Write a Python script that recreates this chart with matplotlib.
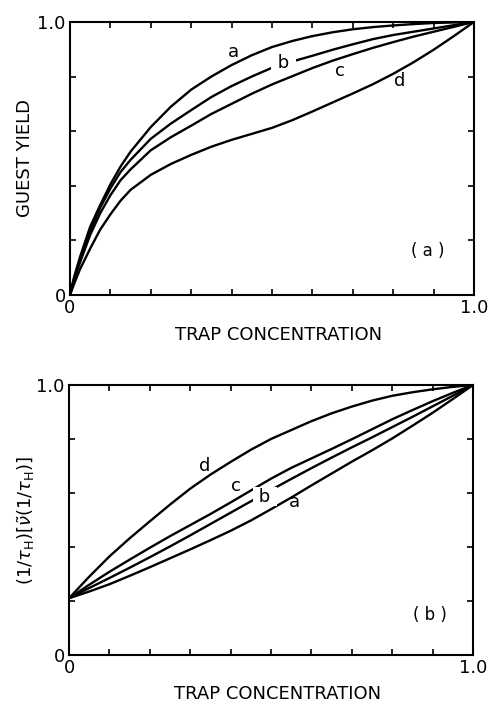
import numpy as np
import matplotlib
matplotlib.use('Agg')
import matplotlib.pyplot as plt

# panel (a): guest yield vs trap concentration
xa = [0, 0.01, 0.025, 0.05, 0.075, 0.1, 0.125, 0.15, 0.2, 0.25, 0.3, 0.35, 0.4,
      0.45, 0.5, 0.55, 0.6, 0.65, 0.7, 0.75, 0.8, 0.85, 0.9, 0.95, 1.0]
ya_a = [0, 0.065, 0.14, 0.25, 0.33, 0.405, 0.47, 0.525, 0.615, 0.69, 0.752, 0.80, 0.842,
        0.878, 0.908, 0.93, 0.948, 0.962, 0.973, 0.981, 0.987, 0.992, 0.996, 0.998, 1.0]
ya_b = [0, 0.06, 0.13, 0.235, 0.32, 0.39, 0.45, 0.495, 0.572, 0.628, 0.677, 0.725, 0.765,
        0.80, 0.832, 0.855, 0.876, 0.898, 0.918, 0.937, 0.952, 0.964, 0.976, 0.988, 1.0]
ya_c = [0, 0.055, 0.12, 0.22, 0.30, 0.365, 0.42, 0.46, 0.53, 0.578, 0.62, 0.663, 0.70,
        0.737, 0.771, 0.801, 0.831, 0.858, 0.882, 0.905, 0.926, 0.946, 0.964, 0.982, 1.0]
ya_d = [0, 0.04, 0.095, 0.17, 0.24, 0.295, 0.345, 0.385, 0.44, 0.48, 0.513, 0.543, 0.568,
        0.59, 0.612, 0.64, 0.672, 0.705, 0.738, 0.772, 0.81, 0.852, 0.898, 0.948, 1.0]

# panel (b): normalized decay rate vs trap concentration
xb = [0, 0.05, 0.1, 0.15, 0.2, 0.25, 0.3, 0.35, 0.4, 0.45, 0.5,
      0.55, 0.6, 0.65, 0.7, 0.75, 0.8, 0.85, 0.9, 0.95, 1.0]
yb_d = [0.21, 0.29, 0.365, 0.432, 0.495, 0.557, 0.616, 0.668, 0.715, 0.76, 0.80,
        0.833, 0.866, 0.895, 0.92, 0.942, 0.96, 0.973, 0.984, 0.993, 1.0]
yb_c = [0.21, 0.26, 0.308, 0.353, 0.397, 0.44, 0.481, 0.522, 0.565, 0.609, 0.653,
        0.693, 0.728, 0.763, 0.799, 0.836, 0.873, 0.907, 0.94, 0.971, 1.0]
yb_b = [0.21, 0.248, 0.285, 0.323, 0.362, 0.402, 0.443, 0.485, 0.527, 0.569, 0.611,
        0.652, 0.692, 0.731, 0.769, 0.806, 0.844, 0.882, 0.921, 0.96, 1.0]
yb_a = [0.21, 0.235, 0.262, 0.293, 0.325, 0.358, 0.391, 0.425, 0.46, 0.498, 0.54,
        0.583, 0.628, 0.672, 0.716, 0.758, 0.802, 0.849, 0.897, 0.948, 1.0]

xticks = np.linspace(0, 1, 11)
xticklabels = ['0', '', '', '', '', '', '', '', '', '', '1.0']
yticks = np.linspace(0, 1, 6)
yticklabels = ['0', '', '', '', '', '1.0']

fig = plt.figure(figsize=(4.88, 7.02), dpi=100)
ax1 = fig.add_axes([0.1434, 0.5798, 0.828, 0.389])
ax2 = fig.add_axes([0.1414, 0.0670, 0.828, 0.3846])

fs = 13
lw = 1.7

def style(ax):
    ax.set_xlim(0, 1)
    ax.set_ylim(0, 1)
    ax.set_xticks(xticks)
    ax.set_xticklabels(xticklabels)
    ax.set_yticks(yticks)
    ax.set_yticklabels(yticklabels)
    ax.tick_params(direction='in', top=True, right=True, length=4, width=1.2,
                   labelsize=fs, pad=3)
    for s in ax.spines.values():
        s.set_linewidth(1.5)

for y in [ya_a, ya_b, ya_c, ya_d]:
    ax1.plot(xa, y, color='black', lw=lw, solid_capstyle='round')
style(ax1)
ax1.text(0.405, 0.89, 'a', fontsize=fs, ha='center', va='center')
ax1.text(0.528, 0.85, ' b ', fontsize=fs, ha='center', va='center',
         bbox=dict(boxstyle='square,pad=0.05', fc='white', ec='none'))
ax1.text(0.668, 0.822, 'c', fontsize=fs, ha='center', va='center')
ax1.text(0.817, 0.785, 'd', fontsize=fs, ha='center', va='center')
ax1.text(0.886, 0.16, '( a )', fontsize=fs - 1, ha='center', va='center')
ax1.set_xlabel('TRAP CONCENTRATION', fontsize=fs, va='top')
ax1.xaxis.set_label_coords(0.515, -0.115)
ax1.set_ylabel('GUEST YIELD', fontsize=fs)
ax1.yaxis.set_label_coords(-0.088, 0.5)

for y in [yb_a, yb_b, yb_c, yb_d]:
    ax2.plot(xb, y, color='black', lw=lw, solid_capstyle='round')
style(ax2)
ax2.text(0.337, 0.70, 'd', fontsize=fs, ha='center', va='center')
ax2.text(0.413, 0.625, 'c', fontsize=fs, ha='center', va='center')
ax2.text(0.485, 0.586, ' b ', fontsize=fs, ha='center', va='center',
         bbox=dict(boxstyle='square,pad=0.02', fc='white', ec='none'))
ax2.text(0.559, 0.565, 'a', fontsize=fs, ha='center', va='center')
ax2.text(0.894, 0.148, '( b )', fontsize=fs - 1, ha='center', va='center')
ax2.set_xlabel('TRAP CONCENTRATION', fontsize=fs, va='top')
ax2.xaxis.set_label_coords(0.515, -0.11)
ax2.set_ylabel(r'$(1/\tau_{\rm H})[\tilde{\nu}(1/\tau_{\rm H})]$', fontsize=fs)
ax2.yaxis.set_label_coords(-0.08, 0.5)

fig.savefig('out.png', dpi=100)
